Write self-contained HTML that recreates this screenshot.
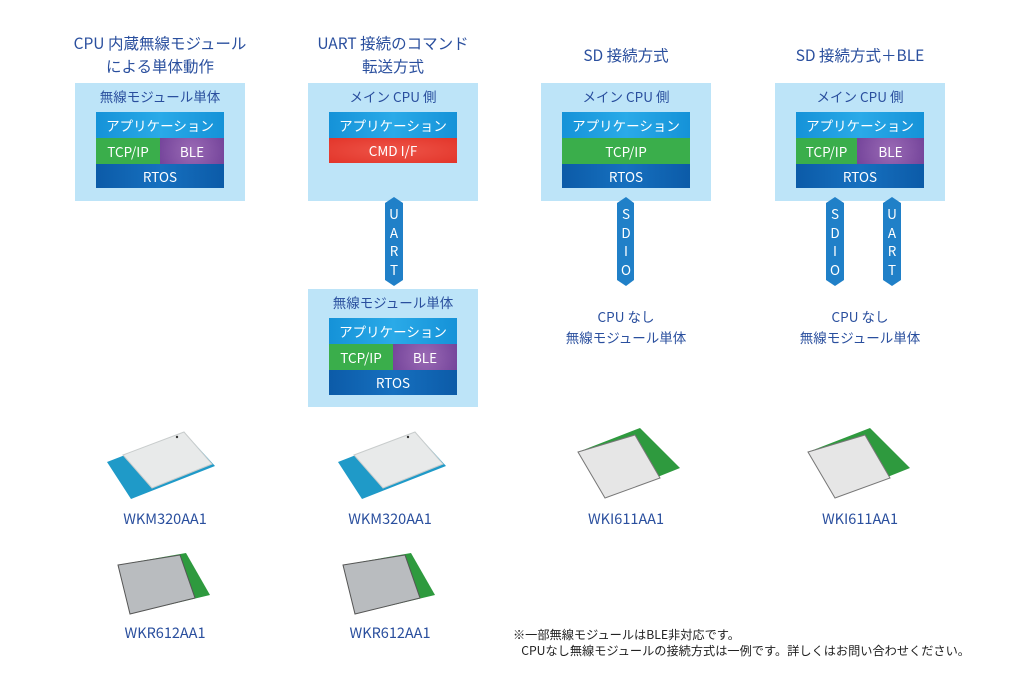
<!DOCTYPE html>
<html><head><meta charset="utf-8"><style>
body{margin:0;width:1024px;height:683px;background:#fff;position:relative;overflow:hidden;font-family:"Noto Sans CJK JP","Liberation Sans",sans-serif;color:#2a4f9e}
.a{position:absolute}
.t{position:absolute;text-align:center;font-size:15.5px;line-height:23px;white-space:nowrap}
.box{position:absolute;background:#bde4f8;width:170px;height:118px}
.box .h{position:absolute;left:0;width:170px;top:3px;text-align:center;font-size:13.5px;line-height:20px;color:#2a4f9e}
.l{position:absolute;color:#fff;font-size:13.5px;text-align:center}
.app{background:linear-gradient(90deg,#1592d8,#2aaae8,#1592d8)}
.tcp{background:#3aae4b}
.ble{background:radial-gradient(circle,#9a6ab5,#74449a)}
.rtos{background:linear-gradient(90deg,#0c5ba8,#1670bf,#0c5ba8)}
.cmd{background:radial-gradient(ellipse,#ee5448,#e2352a)}
.lab{position:absolute;font-size:14.5px;width:140px;text-align:center;line-height:18px}
</style></head><body>
<div class="t" style="left:40px;width:240px;top:32px">CPU 内蔵無線モジュール<br>による単体動作</div>
<div class="t" style="left:273px;width:240px;top:32px">UART 接続のコマンド<br>転送方式</div>
<div class="t" style="left:506px;width:240px;top:44px">SD 接続方式</div>
<div class="t" style="left:740px;width:240px;top:44px">SD 接続方式＋BLE</div>

<div class="box" style="left:75px;top:83px"><div class="h">無線モジュール単体</div></div>
<div class="l app" style="left:96px;top:112px;width:128px;height:26px;line-height:26px">アプリケーション</div>
<div class="l tcp" style="left:96px;top:138px;width:64px;height:26px;line-height:26px">TCP/IP</div>
<div class="l ble" style="left:160px;top:138px;width:64px;height:26px;line-height:26px">BLE</div>
<div class="l rtos" style="left:96px;top:164px;width:128px;height:24px;line-height:24px">RTOS</div>

<div class="box" style="left:308px;top:83px"><div class="h">メイン CPU 側</div></div>
<div class="l app" style="left:329px;top:112px;width:128px;height:26px;line-height:26px">アプリケーション</div>
<div class="l cmd" style="left:329px;top:138px;width:128px;height:25px;line-height:25px">CMD I/F</div>
<div class="box" style="left:308px;top:289px"><div class="h">無線モジュール単体</div></div>
<div class="l app" style="left:329px;top:318px;width:128px;height:26px;line-height:26px">アプリケーション</div>
<div class="l tcp" style="left:329px;top:344px;width:64px;height:26px;line-height:26px">TCP/IP</div>
<div class="l ble" style="left:393px;top:344px;width:64px;height:26px;line-height:26px">BLE</div>
<div class="l rtos" style="left:329px;top:370px;width:128px;height:25px;line-height:25px">RTOS</div>

<div class="box" style="left:541px;top:83px"><div class="h">メイン CPU 側</div></div>
<div class="l app" style="left:562px;top:112px;width:128px;height:26px;line-height:26px">アプリケーション</div>
<div class="l tcp" style="left:562px;top:138px;width:128px;height:26px;line-height:26px">TCP/IP</div>
<div class="l rtos" style="left:562px;top:164px;width:128px;height:24px;line-height:24px">RTOS</div>

<div class="box" style="left:775px;top:83px"><div class="h">メイン CPU 側</div></div>
<div class="l app" style="left:796px;top:112px;width:128px;height:26px;line-height:26px">アプリケーション</div>
<div class="l tcp" style="left:796px;top:138px;width:61px;height:26px;line-height:26px">TCP/IP</div>
<div class="l ble" style="left:857px;top:138px;width:67px;height:26px;line-height:26px">BLE</div>
<div class="l rtos" style="left:796px;top:164px;width:128px;height:24px;line-height:24px">RTOS</div>

<svg class="a" style="left:0;top:0" width="1024" height="683">
<g fill="#2080c8">
<polygon points="385,203 394,197 403,203 403,280 394,286 385,280"/>
<polygon points="617,203 626,197 634,203 634,280 626,286 617,280"/>
<polygon points="826,203 835,197 844,203 844,280 835,286 826,280"/>
<polygon points="883,203 892,197 901,203 901,280 892,286 883,280"/>
</g>
<g fill="#fff" font-family="Noto Sans CJK JP, Liberation Sans, sans-serif" font-size="13.5" text-anchor="middle">
<text x="394" y="219">U</text><text x="394" y="238">A</text><text x="394" y="256">R</text><text x="394" y="275">T</text>
<text x="626" y="219">S</text><text x="626" y="238">D</text><text x="626" y="256">I</text><text x="626" y="275">O</text>
<text x="835" y="219">S</text><text x="835" y="238">D</text><text x="835" y="256">I</text><text x="835" y="275">O</text>
<text x="892" y="219">U</text><text x="892" y="238">A</text><text x="892" y="256">R</text><text x="892" y="275">T</text>
</g>
<g>
<polygon points="107,462 184,432 215,466 131,499" fill="#1f9ac8"/>
<polygon points="123,455 184,432 212,464 152,488" fill="#e8eaea" stroke="#c8cccc"/>
<circle cx="177" cy="437" r="1.2" fill="#333"/>
</g>
<g transform="translate(231,0)">
<polygon points="107,462 184,432 215,466 131,499" fill="#1f9ac8"/>
<polygon points="123,455 184,432 212,464 152,488" fill="#e8eaea" stroke="#c8cccc"/>
<circle cx="177" cy="437" r="1.2" fill="#333"/>
</g>
<g>
<polygon points="118,565 186,553 210,595 130,614" fill="#2e9a3e"/>
<polygon points="118,565 180,555 195,598 130,614" fill="#b9bcbf" stroke="#555"/>
</g>
<g transform="translate(225,0)">
<polygon points="118,565 186,553 210,595 130,614" fill="#2e9a3e"/>
<polygon points="118,565 180,555 195,598 130,614" fill="#b9bcbf" stroke="#555"/>
</g>
<g>
<polygon points="578,452 640,428 680,468 605,498" fill="#2e9a3e"/>
<polygon points="578,452 635,435 660,478 605,498" fill="#e6e6e6" stroke="#777"/>
</g>
<g transform="translate(230,0)">
<polygon points="578,452 640,428 680,468 605,498" fill="#2e9a3e"/>
<polygon points="578,452 635,435 660,478 605,498" fill="#e6e6e6" stroke="#777"/>
</g>
</svg>

<div class="t" style="left:506px;width:240px;top:306px;font-size:13.5px;line-height:21px">CPU なし<br>無線モジュール単体</div>
<div class="t" style="left:740px;width:240px;top:306px;font-size:13.5px;line-height:21px">CPU なし<br>無線モジュール単体</div>

<div class="lab" style="left:95px;top:510px">WKM320AA1</div>
<div class="lab" style="left:320px;top:510px">WKM320AA1</div>
<div class="lab" style="left:556px;top:510px">WKI611AA1</div>
<div class="lab" style="left:790px;top:510px">WKI611AA1</div>
<div class="lab" style="left:95px;top:624px">WKR612AA1</div>
<div class="lab" style="left:320px;top:624px">WKR612AA1</div>

<div class="a" style="left:513px;top:626px;font-size:12.2px;line-height:16px;color:#222;white-space:nowrap">※一部無線モジュールはBLE非対応です。<br>&nbsp;&nbsp;&nbsp;CPUなし無線モジュールの接続方式は一例です。詳しくはお問い合わせください。</div>
</body></html>
